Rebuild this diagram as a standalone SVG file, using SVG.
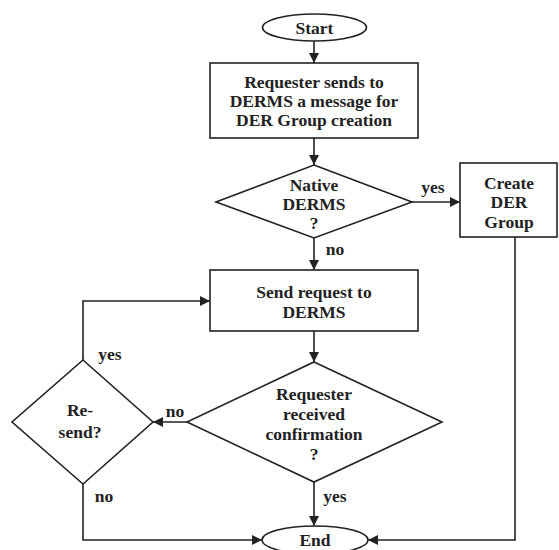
<svg xmlns="http://www.w3.org/2000/svg" width="559" height="550" viewBox="0 0 559 550">
  <style>
    .shape { fill: #fff; stroke: #222; stroke-width: 1.6; }
    .edge { fill: none; stroke: #222; stroke-width: 1.6; }
    text { font-family: "Liberation Serif", "DejaVu Serif", serif; font-weight: bold; font-size: 17.5px; fill: #222; text-anchor: middle; }
  </style>
  <defs>
    <marker id="arrow" viewBox="0 0 10 10" refX="10" refY="5" markerWidth="10" markerHeight="10" markerUnits="userSpaceOnUse" orient="auto">
      <path d="M0,0 L10,5 L0,10 z" fill="#222"/>
    </marker>
  </defs>
  <rect width="559" height="550" fill="#fff"/>

  <g id="connectors">
    <line class="edge" x1="314" y1="41" x2="314" y2="63" marker-end="url(#arrow)"/>
    <line class="edge" x1="314" y1="138" x2="314" y2="165" marker-end="url(#arrow)"/>
    <line class="edge" x1="412" y1="202" x2="460" y2="202" marker-end="url(#arrow)"/>
    <line class="edge" x1="314" y1="238" x2="314" y2="270" marker-end="url(#arrow)"/>
    <line class="edge" x1="314" y1="331" x2="314" y2="362" marker-end="url(#arrow)"/>
    <line class="edge" x1="187" y1="422" x2="153" y2="422" marker-end="url(#arrow)"/>
    <polyline class="edge" points="83,360 83,301 210,301" marker-end="url(#arrow)"/>
    <line class="edge" x1="314" y1="482" x2="314" y2="526" marker-end="url(#arrow)"/>
    <polyline class="edge" points="83,484 83,540 262,540" marker-end="url(#arrow)"/>
    <polyline class="edge" points="515,237 515,540 368,540" marker-end="url(#arrow)"/>
    <text x="433" y="193">yes</text>
    <text x="335" y="255">no</text>
    <text x="175" y="417">no</text>
    <text x="110" y="360">yes</text>
    <text x="104" y="502">no</text>
    <text x="335" y="502">yes</text>
  </g>

  <g id="start">
    <ellipse class="shape" cx="314.5" cy="27.5" rx="52" ry="13.5"/>
    <text x="314.5" y="33.5">Start</text>
  </g>

  <g id="request-message">
    <rect class="shape" x="210" y="63" width="208" height="75"/>
    <text x="314" y="88">Requester sends to</text>
    <text x="314" y="107">DERMS a message for</text>
    <text x="314" y="126">DER Group creation</text>
  </g>

  <g id="native-derms">
    <polygon class="shape" points="314,165 412,202 314,238 216,202"/>
    <text x="314" y="191">Native</text>
    <text x="314" y="210">DERMS</text>
    <text x="314" y="229">?</text>
  </g>

  <g id="create-group">
    <rect class="shape" x="460" y="163" width="97" height="74"/>
    <text x="509" y="189">Create</text>
    <text x="509" y="208">DER</text>
    <text x="509" y="228">Group</text>
  </g>

  <g id="send-request">
    <rect class="shape" x="210" y="270" width="208" height="61"/>
    <text x="314" y="298">Send request to</text>
    <text x="314" y="318">DERMS</text>
  </g>

  <g id="confirmation">
    <polygon class="shape" points="314,362 442,422 314,482 187,422"/>
    <text x="314" y="400">Requester</text>
    <text x="314" y="420">received</text>
    <text x="314" y="440">confirmation</text>
    <text x="314" y="460">?</text>
  </g>

  <g id="resend">
    <polygon class="shape" points="83,360 153,422 83,484 12,422"/>
    <text x="80" y="416">Re-</text>
    <text x="80" y="438">send?</text>
  </g>

  <g id="end">
    <ellipse class="shape" cx="315" cy="540" rx="53" ry="14"/>
    <text x="315" y="546">End</text>
  </g>
</svg>
